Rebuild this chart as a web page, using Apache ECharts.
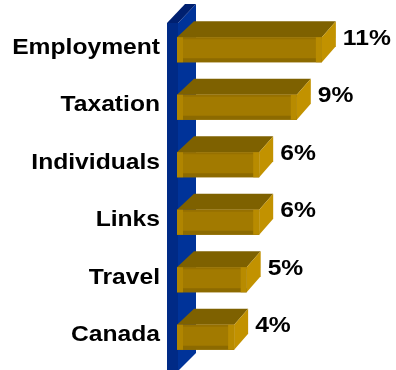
<!DOCTYPE html>
<html>
<head>
<meta charset="utf-8">
<script src="https://cdn.jsdelivr.net/npm/echarts@6/dist/echarts.min.js"></script>
<style>
  html, body { margin: 0; padding: 0; background: #fff; }
  #chart { width: 396px; height: 370px; }
</style>
</head>
<body>
<div id="chart"></div>
<script>
// Share of visits by topic
const categories = ['Employment', 'Taxation', 'Individuals', 'Links', 'Travel', 'Canada'];
const shares = [11, 9, 6, 6, 5, 4];
const valueLabels = shares.map(v => v + '%');

const FONT = '"Liberation Sans", Arial, Helvetica, sans-serif';
const STRETCH = 1.12;     // wide bold lettering
const DX = 14, DY = 16;   // bar depth offset
const DXL = 17;           // left edge of the bar top, along the wall

const chart = echarts.init(document.getElementById('chart'), null, { renderer: 'canvas' });

// Blue back wall the bars stand out from
function renderWall(params, api) {
  const cs = params.coordSys;
  const x0 = api.coord([0, 0])[0];
  const top = cs.y + 2, bottom = cs.y + cs.height + 5;
  return {
    type: 'group',
    children: [
      { type: 'polygon', shape: { points: [[x0 - 6, top], [x0 + 12, top - 19], [x0 + 12, bottom - 18], [x0 - 6, bottom]] },
        style: { fill: '#003399' } },
      { type: 'rect', shape: { x: x0 - 17, y: top, width: 11, height: bottom - top },
        style: { fill: '#002A86' } },
      { type: 'polygon', shape: { points: [[x0 - 17, top], [x0 - 6, top], [x0 + 12, top - 19], [x0 + 1, top - 19]] },
        style: { fill: '#002070' } }
    ]
  };
}

// 3D gold bar with category and value labels
function renderBar(params, api) {
  const cs = params.coordSys;
  const v = api.value(0);
  const idx = api.value(1);
  const end = api.coord([v, idx]);
  const start = api.coord([0, idx]);
  const band = api.size([0, 1])[1];
  const h = band * 0.435;
  const cy = end[1];
  const yt = cy - h / 2, yb = cy + h / 2;
  const xl = start[0] - 7, xr = end[0];
  const w = xr - xl;
  return {
    type: 'group',
    children: [
      // top face
      { type: 'polygon', shape: { points: [[xl, yt], [xr, yt], [xr + DX, yt - DY], [xl + DXL, yt - DY]] },
        style: { fill: '#7E6100' } },
      // right face
      { type: 'polygon', shape: { points: [[xr, yt], [xr + DX, yt - DY], [xr + DX, yb - DY], [xr, yb]] },
        style: { fill: '#C29200' } },
      // front face
      { type: 'rect', shape: { x: xl, y: yt, width: w, height: h }, style: { fill: '#A27A00' } },
      { type: 'rect', shape: { x: xl, y: yt, width: w, height: 2 }, style: { fill: '#967000' } },
      { type: 'rect', shape: { x: xl, y: yb - 4, width: w, height: 4 }, style: { fill: '#8C6A00' } },
      { type: 'rect', shape: { x: xl, y: yt, width: 6, height: h }, style: { fill: '#B08500' } },
      { type: 'rect', shape: { x: xr - 6, y: yt, width: 6, height: h }, style: { fill: '#B88B00' } },
      // category label
      { type: 'text', x: cs.x - 24, y: cy - 2, scaleX: STRETCH,
        style: { text: categories[idx], align: 'right', verticalAlign: 'middle',
                 fontFamily: FONT, fontWeight: 'bold', fontSize: 22, fill: '#000' } },
      // value label
      { type: 'text', x: xr + DX + 7, y: cy - 11, scaleX: STRETCH,
        style: { text: valueLabels[idx], align: 'left', verticalAlign: 'middle',
                 fontFamily: FONT, fontWeight: 'bold', fontSize: 22, fill: '#000' } }
    ]
  };
}

chart.setOption({
  animation: false,
  grid: { left: 184, right: 11.5, top: 21, bottom: 4 },
  xAxis: { type: 'value', min: 0, max: 16, show: false },
  yAxis: { type: 'category', data: categories, inverse: true, show: false },
  series: [
    { type: 'custom', renderItem: renderWall, data: [[0, 0]], encode: { x: 0, y: 1 }, silent: true },
    { type: 'custom', renderItem: renderBar, encode: { x: 0, y: 1 },
      data: shares.map((v, i) => [v, i]) }
  ]
});
</script>
</body>
</html>
